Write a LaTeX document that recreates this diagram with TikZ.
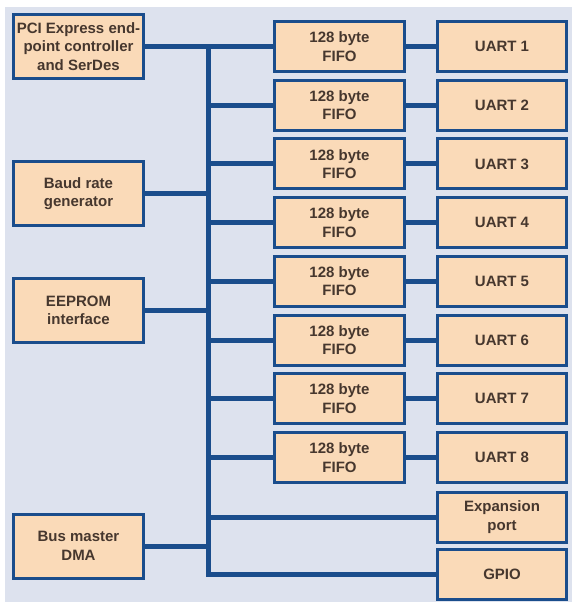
\documentclass[tikz,border=0pt]{standalone}
\usepackage{fontspec}
\setmainfont{Liberation Sans}
\usepackage{tikz}
\usetikzlibrary{calc,positioning}
\definecolor{uartblue}{RGB}{26,77,140}
\definecolor{uartpeach}{RGB}{250,218,184}
\definecolor{uartback}{RGB}{221,226,238}
\definecolor{uarttext}{RGB}{70,55,46}
\tikzset{
  blockbox/.style={draw=uartblue,line width=3pt,fill=uartpeach,
    text=uarttext,align=center,inner sep=0pt,
    font=\fontsize{15}{18.5}\selectfont\bfseries},
  sidebox/.style={blockbox,minimum width=130pt,minimum height=64pt},
  fifobox/.style={blockbox,minimum width=130pt,minimum height=50pt},
  uartbox/.style={blockbox,minimum width=129pt,minimum height=50pt},
  busline/.style={draw=uartblue,line width=5pt,line cap=rect,line join=miter}
}

\begin{document}
\begin{tikzpicture}[x=1pt,y=-1pt]
 \useasboundingbox (0,0) rectangle (574,602);
 \fill[uartback] (5,7) rectangle (572,602);
 % left column
 \node[sidebox] (pci) at (78.5,46.5) {PCI Express end-\\point controller\\and SerDes};
 \node[sidebox] (baud) at (78.5,193.5) {Baud rate\\generator};
 \node[sidebox] (eeprom) at (78.5,310.5) {EEPROM\\interface};
 \node[sidebox] (dma) at (78.5,546) {Bus master\\DMA};
 % right column
 \foreach \i [evaluate=\i as \y using 46.5+58.7*(\i-1)] in {1,...,8} {
  \node[fifobox] (fifo\i) at (339.5,\y) {128 byte\\FIFO};
  \node[uartbox] (uart\i) at (502,\y) {UART \i};
 }
 \node[uartbox] (expan) at (502,517) {Expansion\\port};
 \node[uartbox] (gpio) at (502,574.5) {GPIO};
 % bus
 \coordinate (bustop) at (208,46.5);
 \draw[busline] (bustop) -- (gpio.west -| bustop) -- (gpio.west);
 \draw[busline] (pci.east) -- (fifo1.west);
 \foreach \i in {2,...,8}
  \draw[busline] (fifo\i.west -| bustop) -- (fifo\i.west);
 \foreach \i in {1,...,8}
  \draw[busline] (fifo\i.east) -- (uart\i.west);
 \draw[busline] (baud.east) -- (baud.east -| bustop);
 \draw[busline] (eeprom.east) -- (eeprom.east -| bustop);
 \draw[busline] (dma.east) -- (dma.east -| bustop);
 \draw[busline] (expan.west -| bustop) -- (expan.west);
\end{tikzpicture}
\end{document}
